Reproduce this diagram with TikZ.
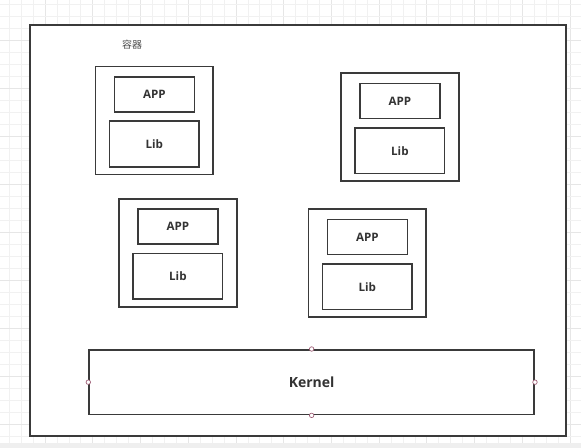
\documentclass[tikz,border=0pt]{standalone}
\usepackage{fontspec}
\setmainfont{Open Sans}
\newfontfamily\cjkfont{Noto Sans CJK SC}
\definecolor{boxc}{HTML}{3A3A3A}
\definecolor{txtc}{HTML}{333333}
\definecolor{gridminor}{HTML}{F1F1F1}
\definecolor{gridmajor}{HTML}{E6E6E6}
\definecolor{handlec}{HTML}{9C5C74}
\definecolor{stripc}{HTML}{EFEFEF}
\tikzset{
  frame/.style={draw=boxc, line width=1.5pt, fill=white},
  cbox/.style={draw=boxc, line width=1.25pt, anchor=north west, inner sep=0pt,
    minimum width=117.7*0.75pt, minimum height=108*0.75pt},
  appbox/.style={draw=boxc, line width=1.25pt, anchor=north west, inner sep=0pt,
    minimum width=80*0.75pt, minimum height=34.8*0.75pt,
    font=\bfseries\fontsize{8.7}{10}\selectfont, text=txtc},
  libbox/.style={draw=boxc, line width=1.25pt, anchor=north west, inner sep=0pt,
    minimum width=89.5*0.75pt, minimum height=45.6*0.75pt,
    font=\bfseries\fontsize{8.7}{10}\selectfont, text=txtc},
  kbox/.style={draw=boxc, line width=1.25pt, anchor=north west, inner sep=0pt,
    minimum width=445*0.75pt, minimum height=64.7*0.75pt,
    font=\bfseries\fontsize{10.5}{12}\selectfont, text=txtc},
  handle/.style={circle, draw=handlec, fill=white, line width=0.5pt, inner sep=0pt, minimum size=4.5*0.75pt},
  lbl/.style={font=\cjkfont\fontsize{7.5}{9}\selectfont, text=black!70}
}
\newcommand{\contbox}[3]{%
  \node[cbox] (#1) at (#2,#3) {};
  \node[appbox] (#1app) at ({#2+18.8},{#3+10.5}) {APP};
  \node[libbox] (#1lib) at ({#2+14},{#3+54.8}) {Lib};
}
\begin{document}
\begin{tikzpicture}[x=0.75pt, y=-0.75pt]
\useasboundingbox (0,0) rectangle (581,448);
% background grid
\fill[white] (0,0) rectangle (581,443);
\foreach \k in {0,...,47} {
  \pgfmathsetmacro{\xx}{9.3+\k*11.93}
  \pgfmathtruncatemacro{\m}{mod(\k,4)}
  \ifnum\m=3 \draw[gridmajor, line width=0.6pt] (\xx,0) -- (\xx,443);
  \else \draw[gridminor, line width=0.6pt] (\xx,0) -- (\xx,443); \fi
}
\foreach \k in {0,...,36} {
  \pgfmathsetmacro{\yy}{4.3+\k*12}
  \pgfmathtruncatemacro{\m}{mod(\k,4)}
  \ifnum\m=3 \draw[gridmajor, line width=0.6pt] (0,\yy) -- (581,\yy);
  \else \draw[gridminor, line width=0.6pt] (0,\yy) -- (581,\yy); \fi
}
\fill[stripc] (0,443) rectangle (581,448);
% main frame
\node[frame, anchor=north west, inner sep=0pt, minimum width=535.5*0.75pt, minimum height=411.3*0.75pt] (main) at (29,24) {};
\node[lbl] (label) at (132,45) {容器};
% containers
\contbox{b1}{94.7}{65.7}
\contbox{b2}{340.3}{72.3}
\contbox{b3}{118.3}{198}
\contbox{b4}{307.7}{208.3}
% kernel
\node[kbox] (kernel) at (88.3,349) {Kernel};
\node[handle] (hn) at (kernel.north) {};
\node[handle] (hs) at (kernel.south) {};
\node[handle] (hw) at (kernel.west) {};
\node[handle] (he) at (kernel.east) {};
\end{tikzpicture}
\end{document}
